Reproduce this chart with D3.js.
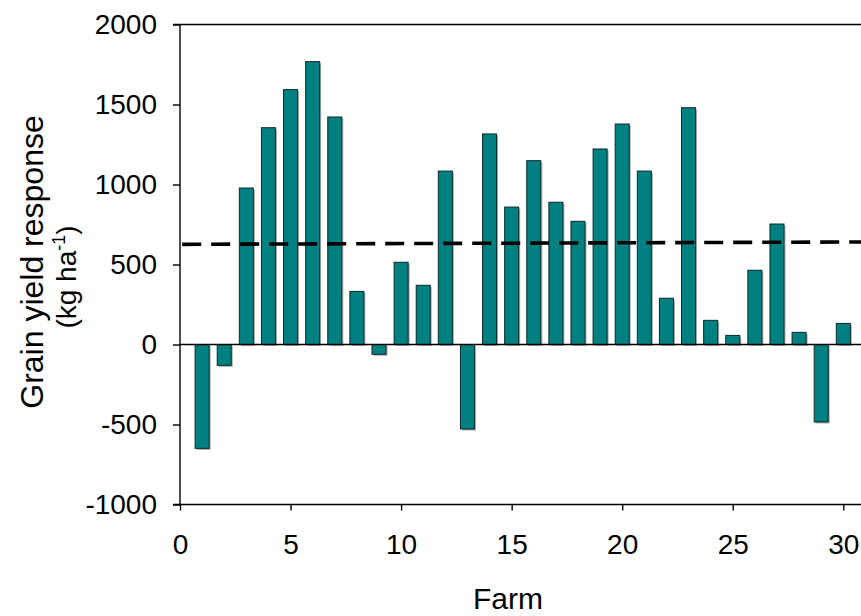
<!DOCTYPE html>
<html>
<head>
<meta charset="utf-8">
<script src="https://cdn.jsdelivr.net/npm/d3@7"></script>
<style>
  html, body { margin: 0; padding: 0; background: #fff; }
  svg { display: block; font-family: "Liberation Sans", Arial, sans-serif; }
</style>
</head>
<body>
<svg id="chart" width="861" height="616"></svg>
<script>
// Grain yield response per farm (kg/ha)
const farms = d3.range(1, 31);
const responses = [
  -649, -130, 978, 1355, 1593, 1768, 1422, 332, -61, 514,
   370, 1084, -528, 1316, 859, 1149, 889, 770, 1222, 1378,
  1084, 289, 1480, 151, 57, 464, 753, 76, -484, 132
];
// Mean response trend line (end points)
const trendFarm = [0.1, 31];
const trendValue = [626, 641];

const xTicks = [0, 5, 10, 15, 20, 25, 30];
const yTicks = [-1000, -500, 0, 500, 1000, 1500, 2000];

const svg = d3.select("#chart");

const x = d3.scaleLinear().domain([0, 31]).range([180, 180 + 31 * 22.11]);
const y = d3.scaleLinear().domain([-1000, 2000]).range([504.5, 24.5]);

const barW = 14;
const tickFont = 28;
const titleFont = 32;
const plain = d => String(d);

// top border
svg.append("line")
  .attr("x1", 173).attr("x2", x.range()[1])
  .attr("y1", y(2000)).attr("y2", y(2000))
  .attr("stroke", "#000").attr("stroke-width", 1.4);

// bars (with a soft drop shadow)
const bars = svg.append("g");
bars.selectAll("rect.shadow")
  .data(farms)
  .join("rect")
  .attr("class", "shadow")
  .attr("x", (d, i) => x(d) - barW / 2 + 1.5)
  .attr("y", (d, i) => Math.min(y(responses[i]), y(0)) + 1.5)
  .attr("width", barW)
  .attr("height", (d, i) => Math.abs(y(responses[i]) - y(0)))
  .attr("fill", "#a8a8a8");

bars.selectAll("rect.bar")
  .data(farms)
  .join("rect")
  .attr("class", "bar")
  .attr("x", (d, i) => x(d) - barW / 2)
  .attr("y", (d, i) => Math.min(y(responses[i]), y(0)))
  .attr("width", barW)
  .attr("height", (d, i) => Math.abs(y(responses[i]) - y(0)))
  .attr("fill", "#008080")
  .attr("stroke", "#0a2a2a")
  .attr("stroke-width", 1);

// zero line
svg.append("line")
  .attr("x1", x(0)).attr("x2", x.range()[1])
  .attr("y1", y(0)).attr("y2", y(0))
  .attr("stroke", "#000").attr("stroke-width", 1.4);

// dashed mean line
const trend = trendFarm.map((f, i) => [f, trendValue[i]]);
const line = d3.line().x(d => x(d[0])).y(d => y(d[1]));
svg.append("path")
  .attr("d", line(trend))
  .attr("fill", "none")
  .attr("stroke", "#000")
  .attr("stroke-width", 3.6)
  .attr("stroke-dasharray", "19,10");

// y axis
const yAxis = d3.axisLeft(y)
  .tickValues(yTicks)
  .tickSize(7)
  .tickPadding(16)
  .tickFormat(plain);
const gy = svg.append("g")
  .attr("transform", `translate(${x(0)},0)`)
  .call(yAxis);
gy.select(".domain").remove();
gy.selectAll(".tick line").attr("stroke", "#000").attr("stroke-width", 1.4);
gy.selectAll(".tick text")
  .attr("font-size", tickFont)
  .attr("font-family", "Liberation Sans, Arial, sans-serif")
  .attr("fill", "#000");
svg.append("line")
  .attr("x1", x(0)).attr("x2", x(0))
  .attr("y1", y(2000)).attr("y2", y(-1000))
  .attr("stroke", "#000").attr("stroke-width", 1.4);

// x axis
const xAxis = d3.axisBottom(x)
  .tickValues(xTicks)
  .tickSize(6)
  .tickPadding(24)
  .tickFormat(plain);
const gx = svg.append("g")
  .attr("transform", `translate(0,${y(-1000)})`)
  .call(xAxis);
gx.select(".domain").remove();
gx.selectAll(".tick line").attr("stroke", "#000").attr("stroke-width", 1.4);
gx.selectAll(".tick text")
  .attr("font-size", tickFont)
  .attr("font-family", "Liberation Sans, Arial, sans-serif")
  .attr("fill", "#000");
svg.append("line")
  .attr("x1", 173).attr("x2", x.range()[1])
  .attr("y1", y(-1000)).attr("y2", y(-1000))
  .attr("stroke", "#000").attr("stroke-width", 1.4);

// axis titles
svg.append("text")
  .attr("x", 508).attr("y", 609)
  .attr("text-anchor", "middle")
  .attr("font-size", 30)
  .attr("fill", "#000")
  .text("Farm");

svg.append("text")
  .attr("transform", "translate(43,262) rotate(-90)")
  .attr("text-anchor", "middle")
  .attr("font-size", titleFont)
  .attr("fill", "#000")
  .text("Grain yield response");

const unit = svg.append("text")
  .attr("transform", "translate(76,277) rotate(-90)")
  .attr("text-anchor", "middle")
  .attr("font-size", tickFont)
  .attr("fill", "#000");
unit.append("tspan").text("(kg ha");
unit.append("tspan").attr("font-size", 18).attr("dy", -11).text("-1");
unit.append("tspan").attr("dy", 11).text(")");
</script>
</body>
</html>
